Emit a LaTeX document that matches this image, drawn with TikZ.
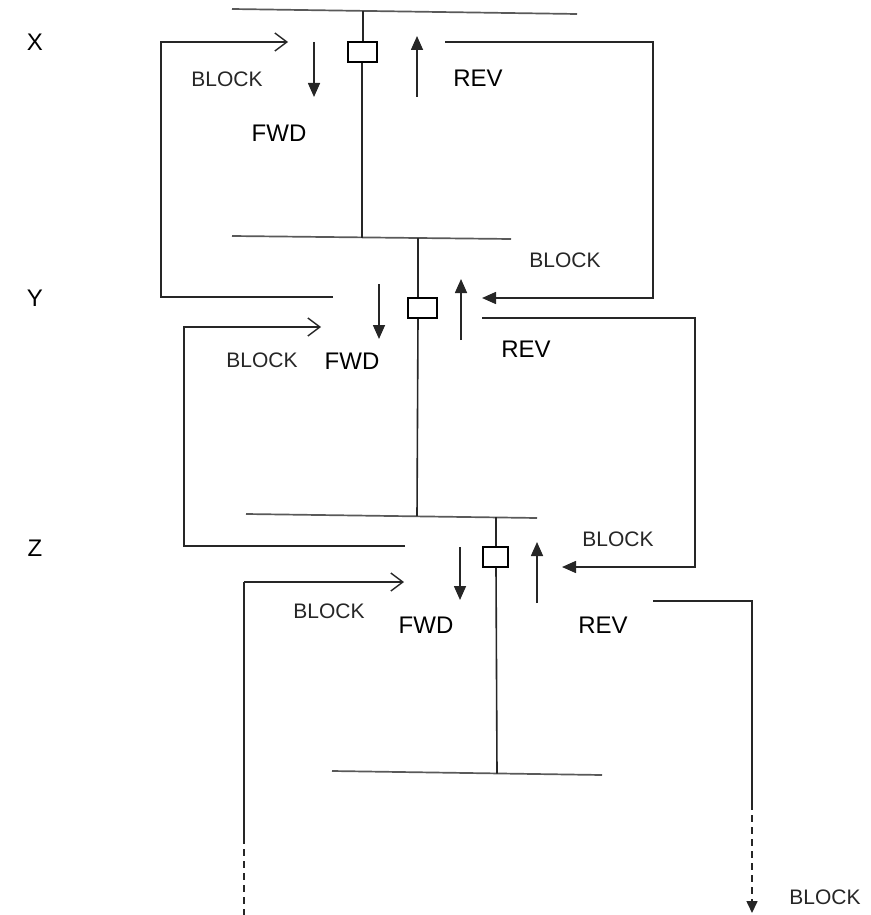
\documentclass[tikz,border=0pt]{standalone}
\usepackage{fontspec}
\setmainfont{Liberation Sans}
\usetikzlibrary{arrows.meta}
\begin{document}
\begin{tikzpicture}[x=1pt,y=-1pt,
  wire/.style={draw=black!85, line width=1.6pt},
  busline/.style={draw=black!65, line width=1.7pt},
  brk/.style={draw=black, line width=1.6pt, fill=white, minimum width=29pt, minimum height=20pt, inner sep=0pt},
  flow/.style={wire, -{Triangle[length=14pt,width=12pt]}},
  ret/.style={wire, -{Triangle[length=14pt,width=12pt]}},
  openret/.style={wire, -{Straight Barb[length=12pt,width=18pt,line width=1.4pt]}},
  dashwire/.style={wire, dash pattern=on 7pt off 5pt},
  biglabel/.style={inner sep=0pt, font=\fontsize{24}{24}\selectfont},
  blocklabel/.style={inner sep=0pt, text=black!85, font=\fontsize{21}{21}\selectfont}
]
\useasboundingbox (0,0) rectangle (870,915);

% ---------- labels on the left
\node[biglabel] (lx) at (35,42) {X};
\node[biglabel] (ly) at (35,298) {Y};
\node[biglabel] (lz) at (35,548) {Z};

% ---------- buses
\coordinate (bxa) at (232,9);   \coordinate (bxb) at (577,14);
\coordinate (bya) at (232,236); \coordinate (byb) at (511,239);
\coordinate (bza) at (246,514); \coordinate (bzb) at (537,518);
\coordinate (bwa) at (332,771); \coordinate (bwb) at (602,775);
\draw[busline] (bxa) -- (bxb);
\draw[busline] (bya) -- (byb);
\draw[busline] (bza) -- (bzb);
\draw[busline] (bwa) -- (bwb);

% ---------- breakers
\node[brk] (boxX) at (362.5,52) {};
\node[brk] (boxY) at (422.5,308) {};
\node[brk, minimum width=25pt] (boxZ) at (495.5,557) {};

\coordinate (sx1) at (363,11);
\coordinate (sx2) at (362,237.5);
\coordinate (sy1) at (418,238);
\coordinate (sy2) at (417,516);
\coordinate (sz1) at (496,517);
\coordinate (sz2) at (497,773.5);
\draw[wire] (sx1) -- (sx1 |- boxX.north);
\draw[wire] (sx2 |- boxX.south) -- (sx2);
\draw[wire] (sy1) -- (sy1 |- boxY.north);
\draw[wire] (sy1 |- boxY.south) -- (sy2);
\draw[wire] (sz1) -- (sz1 |- boxZ.north);
\draw[wire] (sz1 |- boxZ.south) -- (sz2);

% ---------- FWD / REV arrows
\coordinate (fx1) at (314,42);  \coordinate (fx2) at (314,97);
\coordinate (rx1) at (417,97);  \coordinate (rx2) at (417,36);
\coordinate (fy1) at (379,284); \coordinate (fy2) at (379,339);
\coordinate (ry1) at (461,340); \coordinate (ry2) at (461,279);
\coordinate (fz1) at (460,547); \coordinate (fz2) at (460,600);
\coordinate (rz1) at (537,603); \coordinate (rz2) at (537,542);
\draw[flow] (fx1) -- (fx2);
\draw[flow] (rx1) -- (rx2);
\draw[flow] (fy1) -- (fy2);
\draw[flow] (ry1) -- (ry2);
\draw[flow] (fz1) -- (fz2);
\draw[flow] (rz1) -- (rz2);

% ---------- loops of section X
\coordinate (xl1) at (333,297); \coordinate (xl2) at (161,297);
\coordinate (xl3) at (161,42);  \coordinate (xl4) at (288,42);
\draw[openret] (xl1) -- (xl2) -- (xl3) -- (xl4);
\coordinate (xr1) at (445,42);  \coordinate (xr2) at (653,42);
\coordinate (xr3) at (653,298); \coordinate (xr4) at (482,298);
\draw[ret] (xr1) -- (xr2) -- (xr3) -- (xr4);

% ---------- loops of section Y
\coordinate (yl1) at (405,546); \coordinate (yl2) at (184,546);
\coordinate (yl3) at (184,327); \coordinate (yl4) at (321,327);
\draw[openret] (yl1) -- (yl2) -- (yl3) -- (yl4);
\coordinate (yr1) at (482,318); \coordinate (yr2) at (695,318);
\coordinate (yr3) at (695,567); \coordinate (yr4) at (562,567);
\draw[ret] (yr1) -- (yr2) -- (yr3) -- (yr4);

% ---------- loops of section Z
\coordinate (zl1) at (404,582); \coordinate (zl2) at (244,582);
\coordinate (zl3) at (244,837); \coordinate (zl4) at (244,915);
\draw[openret] (zl2) -- (zl1);
\draw[wire] (zl2) -- (zl3);
\draw[dashwire] (zl3) -- (zl4);
\coordinate (zr1) at (653,601); \coordinate (zr2) at (752,601);
\coordinate (zr3) at (752,803); \coordinate (zr4) at (752,913);
\draw[wire] (zr1) -- (zr2) -- (zr3);
\draw[dashwire, -{Triangle[length=12pt,width=11pt]}] (zr3) -- (zr4);

% ---------- text labels
\node[blocklabel] (b1) at (227,79) {BLOCK};
\node[biglabel] (f1) at (279,133) {FWD};
\node[biglabel] (r1) at (478,78) {REV};
\node[blocklabel] (b2) at (565,260) {BLOCK};
\node[blocklabel] (b3) at (262,360) {BLOCK};
\node[biglabel] (f2) at (352,361) {FWD};
\node[biglabel] (r2) at (526,349) {REV};
\node[blocklabel] (b4) at (618,539) {BLOCK};
\node[blocklabel] (b5) at (329,611) {BLOCK};
\node[biglabel] (f3) at (426,625) {FWD};
\node[biglabel] (r3) at (603,625) {REV};
\node[blocklabel] (b6) at (825,897) {BLOCK};
\end{tikzpicture}
\end{document}
